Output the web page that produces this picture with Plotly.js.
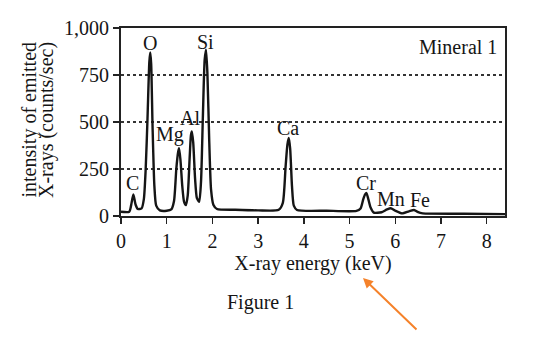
<!DOCTYPE html>
<html>
<head>
<meta charset="utf-8">
<script src="https://cdn.plot.ly/plotly-3.0.1.min.js"></script>
<style>html,body{margin:0;padding:0;background:#fff;}#chart{width:542px;height:355px;}</style>
</head>
<body>
<div id="chart"></div>
<script>
// Spectrum: energy (keV) and intensity (counts/sec)
const energy = [0.00,0.18,0.22,0.27,0.32,0.37,0.45,0.50,0.54,0.58,0.62,0.64,0.66,0.69,0.73,0.77,0.85,1.00,1.10,1.16,1.21,1.25,1.27,1.30,1.34,1.38,1.42,1.46,1.50,1.53,1.55,1.58,1.62,1.66,1.71,1.75,1.79,1.83,1.86,1.89,1.93,1.97,2.02,2.10,2.50,3.00,3.45,3.54,3.60,3.64,3.67,3.70,3.74,3.78,3.85,4.50,5.15,5.24,5.30,5.34,5.37,5.41,5.46,5.53,5.70,5.82,5.90,6.00,6.15,6.30,6.41,6.50,6.60,7.50,8.40];
const counts = [23,23,55,115,60,37,40,90,250,520,820,870,810,480,160,55,30,28,35,80,250,340,360,300,160,75,58,110,300,430,450,390,200,95,76,180,520,830,885,760,400,140,60,37,33,30,33,70,260,380,415,360,160,55,32,28,27,40,90,115,122,90,45,18,20,35,41,28,14,25,32,20,14,12,10];

// Peak labels
const peakNames = ["C","O","Si","Mg","Al","Ca","Cr","Mn","Fe"];
const peakLabelX = [0.26,0.64,1.84,1.07,1.51,3.66,5.37,5.90,6.53];
const peakLabelY = [175,922,927,431,521,468,178,90,85];

const tickVals = [0,250,500,750,1000];
const xTickVals = [0,1,2,3,4,5,6,7,8];
const yTitleLines = ['intensity of emitted', 'X-rays (counts/sec)'];

const serif = "Liberation Serif, Times New Roman, serif";
const FS = 20;
const ink = '#151515';

const annotations = peakNames.map((n,i)=>({
  text:n, x:peakLabelX[i], y:peakLabelY[i], xref:'x', yref:'y',
  showarrow:false, font:{family:serif,size:FS,color:ink}
}));
const yTitleX = [(28.5-121)/384, (46-121)/384];
yTitleLines.forEach((t,i)=>annotations.push({
  text:t, xref:'paper', yref:'paper', x:yTitleX[i], y:(216-120)/188, xanchor:'center', yanchor:'middle',
  textangle:-90, showarrow:false, font:{family:serif,size:FS,color:ink}
}));
annotations.push({text:'Mineral 1', xref:'paper', yref:'paper', x:0.985, y:0.97, xanchor:'right', yanchor:'top', showarrow:false, font:{family:serif,size:FS,color:ink}});
annotations.push({text:'Figure 1', xref:'paper', yref:'paper', x:(260-121)/384, y:(216-302)/188, xanchor:'center', yanchor:'middle', showarrow:false, font:{family:serif,size:FS,color:ink}});
annotations.push({text:'', xref:'paper', yref:'paper', x:(363-121)/384, y:(216-278)/188, ax:55, ay:53, showarrow:true, arrowhead:2, arrowsize:1, arrowwidth:2, arrowcolor:'#f5822a'});

const trace = {
  x: energy, y: counts, type:'scatter', mode:'lines',
  line:{color:ink, width:2.4, shape:'spline', smoothing:0.6},
  hoverinfo:'skip'
};

const layout = {
  width:542, height:355,
  margin:{l:121, r:37, t:28, b:139, pad:0},
  paper_bgcolor:'#fff', plot_bgcolor:'#fff',
  showlegend:false,
  font:{family:serif, size:FS, color:ink},
  xaxis:{
    range:[0,8.4], tickvals:xTickVals, ticks:'outside', ticklen:6, tickwidth:1.5, tickcolor:'#222',
    showline:true, linecolor:'#222', linewidth:2, mirror:true, showgrid:false, zeroline:false,
    tickfont:{family:serif,size:FS,color:ink},
    title:{text:'X-ray energy (keV)', font:{family:serif,size:FS,color:ink}, standoff:4}
  },
  yaxis:{
    range:[0,1000], tickvals:tickVals, tickformat:',d', ticks:'outside', ticklen:6, tickwidth:1.5, tickcolor:'#222',
    showline:true, linecolor:'#222', linewidth:2, mirror:true, zeroline:false,
    showgrid:true, gridcolor:'#333', griddash:'dot', gridwidth:1.2,
    tickfont:{family:serif,size:FS,color:ink}
  },
  annotations: annotations
};

Plotly.newPlot('chart',[trace],layout,{staticPlot:true, displayModeBar:false});
</script>
</body>
</html>
